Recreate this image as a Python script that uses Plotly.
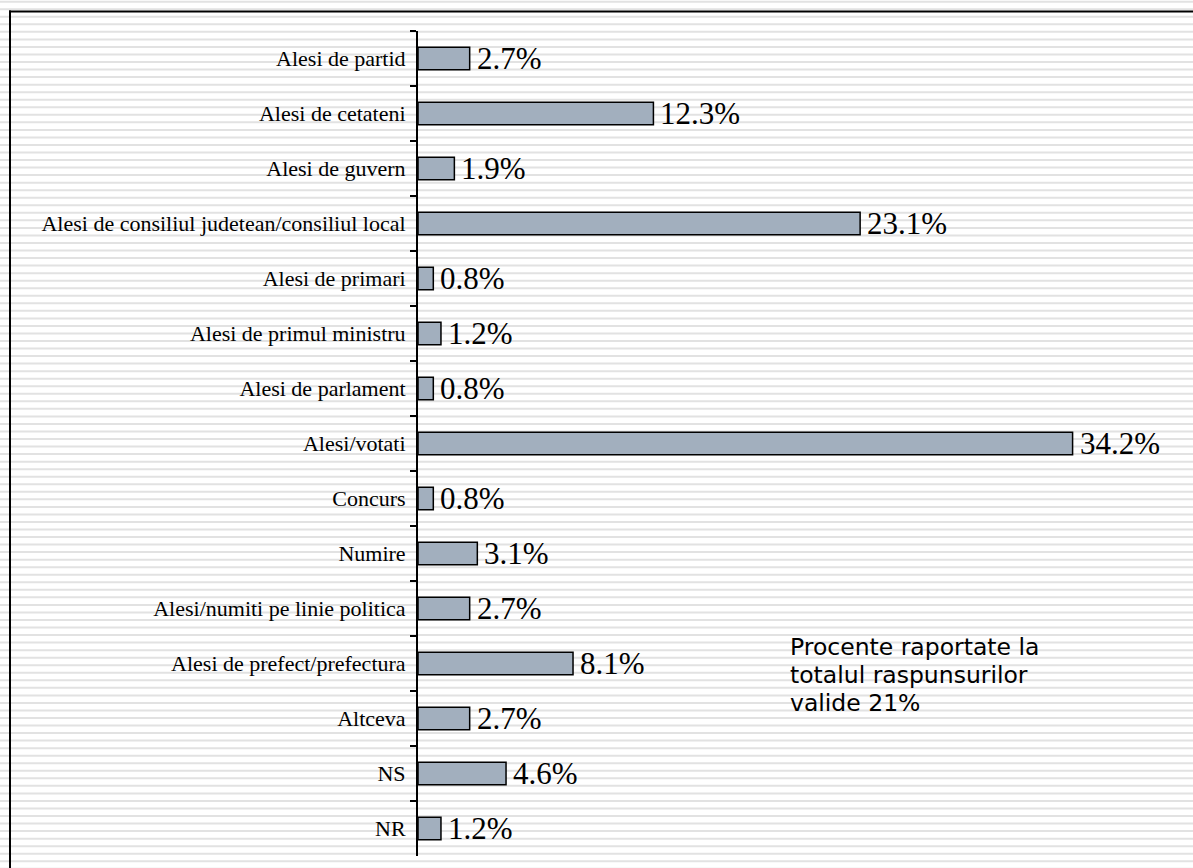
import plotly.graph_objects as go

categories = [
    "Alesi de partid",
    "Alesi de cetateni",
    "Alesi de guvern",
    "Alesi de consiliul judetean/consiliul local",
    "Alesi de primari",
    "Alesi de primul ministru",
    "Alesi de parlament",
    "Alesi/votati",
    "Concurs",
    "Numire",
    "Alesi/numiti pe linie politica",
    "Alesi de prefect/prefectura",
    "Altceva",
    "NS",
    "NR",
]
values = [2.7, 12.3, 1.9, 23.1, 0.8, 1.2, 0.8, 34.2, 0.8, 3.1, 2.7, 8.1, 2.7, 4.6, 1.2]
note_lines = ["Procente raportate la", "totalul raspunsurilor", "valide 21%"]

W, H = 1193, 868
L, R, T, B = 418, 0, 31, 12
pw, ph = W - L - R, H - T - B
px_per_unit = 19.14
x_max = pw / px_per_unit


def px_x(x):
    return (x - L) / pw


def px_y(y):
    return (H - B - y) / ph


fig = go.Figure(
    go.Bar(
        x=values,
        y=categories,
        orientation="h",
        width=0.41,
        marker=dict(color="#a2afbe", line=dict(color="black", width=1.5)),
        cliponaxis=False,
        hoverinfo="skip",
    )
)

annotations = []
for v, c in zip(values, categories):
    annotations.append(dict(
        x=v, y=c, xref="x", yref="y", text=f"{v:.1f}%",
        xanchor="left", yanchor="middle", xshift=5, yshift=0,
        showarrow=False,
        font=dict(family="Liberation Serif", size=31, color="black"),
    ))
for i, line in enumerate(note_lines):
    annotations.append(dict(
        text=line, xref="paper", yref="paper",
        x=px_x(788), y=px_y(647 + 28 * i), xanchor="left", yanchor="middle",
        align="left", showarrow=False,
        font=dict(family="DejaVu Sans", size=23.5, color="black"),
    ))

shapes = []
# striped background
k = 0
while True:
    y = 1.7 + 7.54 * k
    if y > H + 2:
        break
    shapes.append(dict(type="line", xref="paper", yref="paper",
                       x0=px_x(0), x1=px_x(W), y0=px_y(y), y1=px_y(y),
                       line=dict(color="#e2e2e2", width=2), layer="below"))
    k += 1
# open frame (top and left)
shapes.append(dict(type="line", xref="paper", yref="paper",
                   x0=px_x(9), x1=px_x(W), y0=px_y(11.5), y1=px_y(11.5),
                   line=dict(color="black", width=2), layer="below"))
shapes.append(dict(type="line", xref="paper", yref="paper",
                   x0=px_x(10), x1=px_x(10), y0=px_y(10.5), y1=px_y(H),
                   line=dict(color="black", width=2), layer="below"))

fig.update_layout(
    width=W, height=H,
    margin=dict(l=L, r=R, t=T, b=B, pad=0),
    paper_bgcolor="white",
    plot_bgcolor="rgba(0,0,0,0)",
    showlegend=False,
    shapes=shapes,
    annotations=annotations,
    xaxis=dict(range=[0, x_max], showgrid=False, zeroline=False,
               showticklabels=False, showline=False, fixedrange=True),
    yaxis=dict(categoryorder="array", categoryarray=categories,
               autorange="reversed", showgrid=False, zeroline=False,
               showline=True, linecolor="black", linewidth=2,
               ticks="outside", tickson="boundaries", ticklen=6,
               tickcolor="black", tickwidth=1.5, ticklabelstandoff=6,
               tickfont=dict(family="Liberation Serif", size=22, color="black"),
               fixedrange=True),
)

fig.write_html("out.html", config={"displayModeBar": False})
with open("out.html", "r", encoding="utf-8") as f:
    html = f.read()
html = html.replace("<body>", '<body style="margin:0;padding:0;overflow:hidden">', 1)
with open("out.html", "w", encoding="utf-8") as f:
    f.write(html)
